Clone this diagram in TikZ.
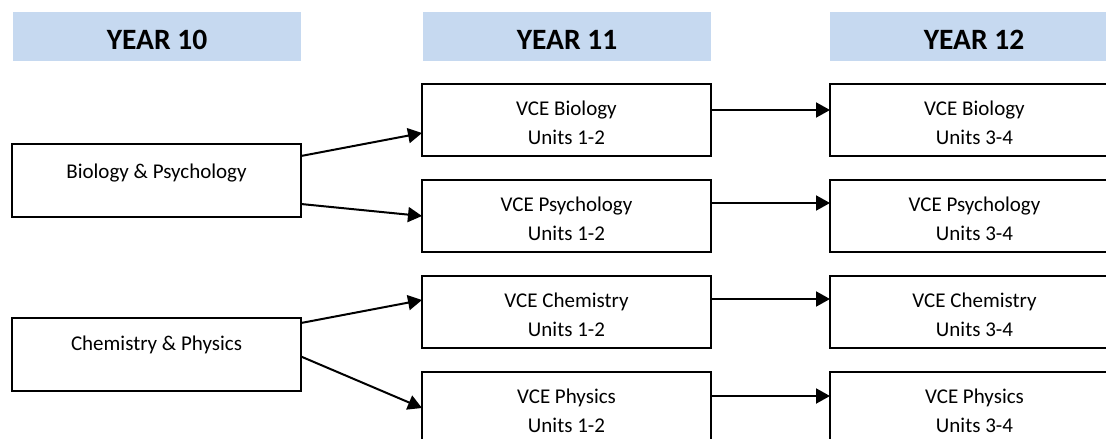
\documentclass[tikz,border=0pt]{standalone}
\usepackage{fontspec}
\setmainfont{Carlito}
\usetikzlibrary{arrows.meta}
\definecolor{hdrblue}{HTML}{C6D9F0}
\begin{document}
\begin{tikzpicture}[x=1pt,y=-1pt,
  hdr/.style={fill=hdrblue, draw=none, inner sep=0pt, outer sep=0pt, anchor=north west,
    minimum width=288pt, text height=37pt, text depth=12pt,
    font=\fontsize{29.5}{34}\selectfont\bfseries},
  subj/.style={draw=black, line width=2pt, inner sep=0pt, outer sep=0pt, anchor=north west,
    minimum width=289pt, text height=31pt, text depth=41pt,
    font=\fontsize{21}{29}\selectfont},
  lbox/.style={draw=black, line width=2pt, inner sep=0pt, outer sep=0pt, anchor=north west,
    minimum width=289pt, font=\fontsize{21}{29}\selectfont},
  conn/.style={line width=2pt, -{Triangle[length=14pt,width=15pt]}}
]
\useasboundingbox (0,0) rectangle (1106,439);
\clip (0,0) rectangle (1106,439);
\newcommand{\twol}[2]{\renewcommand{\arraystretch}{1}\setlength{\tabcolsep}{0pt}\begin{tabular}[t]{c}#1\\#2\end{tabular}}

% headers
\node[hdr] (h10) at (13,12) {YEAR 10};
\node[hdr] (h11) at (423,12) {YEAR 11};
\node[hdr] (h12) at (830,12) {YEAR 12};

% year 10
\node[lbox, text height=34pt, text depth=39pt] (bp) at (12,144) {Biology \& Psychology};
\node[lbox, text height=32pt, text depth=41pt] (cp) at (12,318) {Chemistry \& Physics};

% year 11
\node[subj] (vbio)  at (422,84)  {\twol{VCE Biology}{Units 1-2}};
\node[subj] (vpsy)  at (422,180) {\twol{VCE Psychology}{Units 1-2}};
\node[subj] (vchem) at (422,276) {\twol{VCE Chemistry}{Units 1-2}};
\node[subj] (vphys) at (422,372) {\twol{VCE Physics}{Units 1-2}};

% year 12
\node[subj] (wbio)  at (830,84)  {\twol{VCE Biology}{Units 3-4}};
\node[subj] (wpsy)  at (830,180) {\twol{VCE Psychology}{Units 3-4}};
\node[subj] (wchem) at (830,276) {\twol{VCE Chemistry}{Units 3-4}};
\node[subj] (wphys) at (830,372) {\twol{VCE Physics}{Units 3-4}};

% diagonal connectors
\draw[conn] ([yshift=-12pt]bp.north east) -- ([yshift=23pt]vbio.south west);
\draw[conn] ([yshift=13pt]bp.south east) -- (vpsy.west);
\draw[conn] ([yshift=-5pt]cp.north east) -- ([yshift=-24pt]vchem.north west);
\draw[conn] ([yshift=-2pt]cp.east) -- (vphys.west);

% horizontal connectors
\draw[conn] ([yshift=-26pt]vbio.north east) -- ([yshift=-26pt]wbio.north west);
\draw[conn] ([yshift=-23pt]vpsy.north east) -- ([yshift=-23pt]wpsy.north west);
\draw[conn] ([yshift=-23pt]vchem.north east) -- ([yshift=-23pt]wchem.north west);
\draw[conn] ([yshift=-24pt]vphys.north east) -- ([yshift=-24pt]wphys.north west);
\end{tikzpicture}
\end{document}
